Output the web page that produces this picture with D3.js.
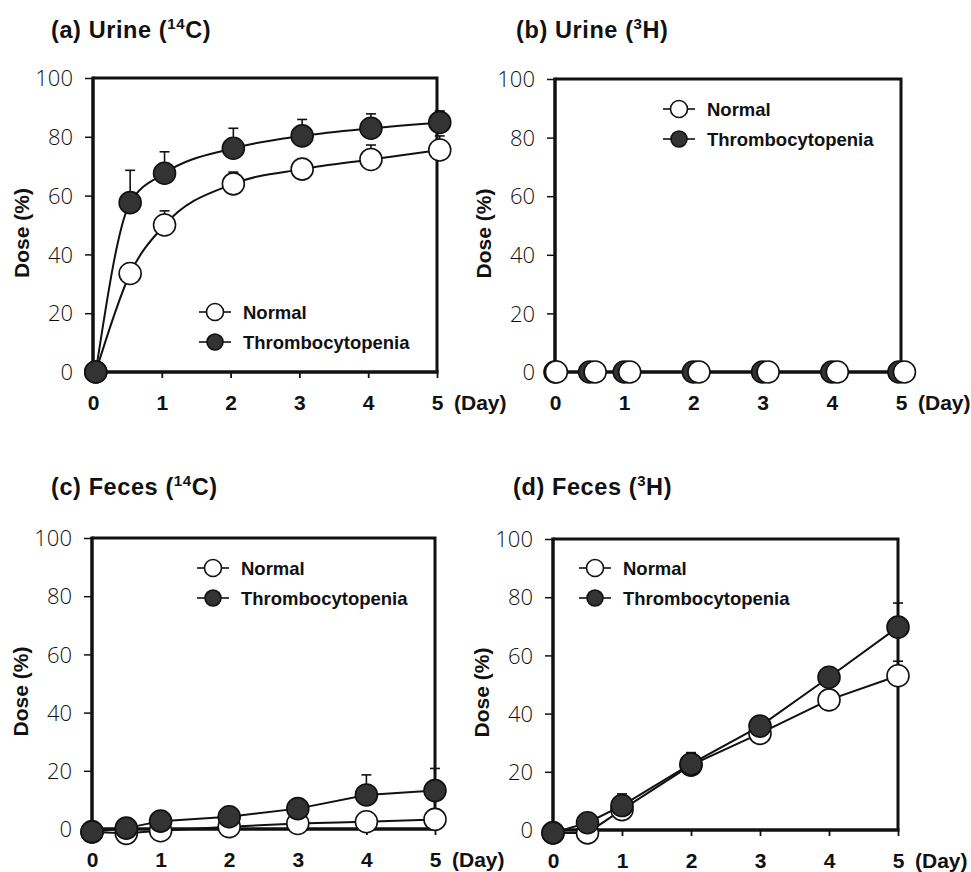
<!DOCTYPE html>
<html>
<head>
<meta charset="utf-8">
<script src="https://cdn.jsdelivr.net/npm/d3@7"></script>
<style>
  html, body { margin: 0; padding: 0; background: #fff; }
  svg { display: block; }
  .tick-y { font-family: "Open Sans", "Noto Sans", sans-serif; font-weight: 300; font-size: 22px; fill: #111; }
  .tick-x { font-family: "Liberation Sans", Arial, sans-serif; font-weight: bold; font-size: 21px; fill: #111; }
  .title { font-family: "Liberation Sans", Arial, sans-serif; font-weight: bold; font-size: 23.5px; letter-spacing: 0.6px; fill: #111; }
  .ylab { font-family: "Liberation Sans", Arial, sans-serif; font-weight: bold; font-size: 21px; fill: #111; }
  .leg { font-family: "Liberation Sans", Arial, sans-serif; font-weight: bold; font-size: 18.5px; fill: #111; }
</style>
</head>
<body>
<svg id="chart" width="971" height="872"></svg>
<script>
// ---------------- DATA ----------------
const days = [0, 0.5, 1, 2, 3, 4, 5];
const xTicks = [0, 1, 2, 3, 4, 5];
const yTicks = [0, 20, 40, 60, 80, 100];
const seriesNames = ["Normal", "Thrombocytopenia"];

const titles = {
  a: ["(a) Urine (", "14", "C)"],
  b: ["(b) Urine (", "3", "H)"],
  c: ["(c) Feces (", "14", "C)"],
  d: ["(d) Feces (", "3", "H)"]
};

// (a) Urine 14C
const aNormal    = [0, 33.5, 50, 64, 69, 72.3, 75.5];
const aNormalErr = [0, 0, 4.8, 4, 1.7, 4.9, 4.8];
const aThrombo    = [0, 57.6, 67.6, 76.1, 80.3, 82.9, 84.9];
const aThromboErr = [0, 11, 7.3, 6.8, 5.6, 4.9, 3.9];

// (b) Urine 3H
const bNormalDays = [0.02, 0.58, 1.08, 2.08, 3.08, 4.08, 5.05];
const bThromboDays = [0, 0.5, 1, 2, 3, 4, 4.97];
const bNormal  = [0, 0, 0, 0, 0, 0, 0];
const bThrombo = [0, 0, 0, 0, 0, 0, 0];

// (c) Feces 14C
const cNormal    = [-1, -1.5, -0.6, 0.8, 1.9, 2.5, 3.3];
const cNormalErr = [0, 0, 0, 0, 0, 0, 0];
const cThrombo    = [-1, 0.3, 2.7, 4.2, 7, 11.7, 13.2];
const cThromboErr = [0, 0, 0, 0, 0, 6.9, 7.6];

// (d) Feces 3H
const dNormal    = [-1, -1, 7, 22.3, 33.2, 44.7, 53];
const dNormalErr = [0, 0, 3, 3, 0, 0, 5];
const dThrombo    = [-1, 2.5, 8.4, 22.7, 35.7, 52.5, 69.7];
const dThromboErr = [0, 0, 4, 3.9, 2.8, 0, 8.3];

// ---------------- LAYOUT ----------------
const panels = [
  { key: "a", L: 93, R: 437, T: 78, B: 372, titleX: 51, titleY: 38, curve: d3.curveMonotoneX,
    normal: aNormal, normalErr: aNormalErr, thrombo: aThrombo, thromboErr: aThromboErr,
    nDays: days.map(d => d + 0.04), tDays: days.map(d => d + 0.04), normalOnTop: false,
    legX: 215, legY: 312 },
  { key: "b", L: 555, R: 901, T: 79, B: 372, titleX: 516, titleY: 38, curve: d3.curveLinear,
    normal: bNormal, normalErr: null, thrombo: bThrombo, thromboErr: null,
    nDays: bNormalDays, tDays: bThromboDays, normalOnTop: true,
    legX: 679, legY: 109 },
  { key: "c", L: 92, R: 435, T: 538, B: 829, titleX: 51, titleY: 495, curve: d3.curveLinear,
    normal: cNormal, normalErr: cNormalErr, thrombo: cThrombo, thromboErr: cThromboErr,
    nDays: days, tDays: days, normalOnTop: false,
    legX: 213, legY: 568 },
  { key: "d", L: 553, R: 898, T: 539, B: 830, titleX: 513, titleY: 495, curve: d3.curveLinear,
    normal: dNormal, normalErr: dNormalErr, thrombo: dThrombo, thromboErr: dThromboErr,
    nDays: days, tDays: days, normalOnTop: false,
    legX: 595, legY: 568 }
];

const svg = d3.select("#chart");
const R = 11;
const fillDark = "#333";

panels.forEach(p => {
  const g = svg.append("g");
  const x = d3.scaleLinear().domain([0, 5]).range([p.L, p.R]);
  const y = d3.scaleLinear().domain([0, 100]).range([p.B, p.T]);

  // Title
  const t = g.append("text").attr("class", "title").attr("x", p.titleX).attr("y", p.titleY);
  const parts = titles[p.key];
  t.append("tspan").text(parts[0]);
  t.append("tspan").attr("font-size", "15px").attr("dy", -9).text(parts[1]);
  t.append("tspan").attr("dy", 9).text(parts[2]);

  // Y axis label
  g.append("text").attr("class", "ylab")
    .attr("transform", `translate(${p.L - 64},${(p.T + p.B) / 2 + 8}) rotate(-90)`)
    .attr("text-anchor", "middle").text("Dose (%)");

  // Frame (top & right)
  g.append("path")
    .attr("d", `M${p.L},${p.T}H${p.R}V${p.B}`)
    .attr("fill", "none").attr("stroke", "#111").attr("stroke-width", 3);

  // Y axis
  const yAxis = d3.axisLeft(y).tickValues(yTicks).tickSize(8).tickPadding(12).tickFormat(d3.format("d"));
  const ya = g.append("g").attr("transform", `translate(${p.L},0)`).call(yAxis);
  ya.select(".domain").attr("stroke", "#111").attr("stroke-width", 3.5).attr("d", `M0,${p.B + 2}V${p.T - 1.5}`);
  ya.selectAll(".tick line").attr("stroke", "#111").attr("stroke-width", 1.5);
  ya.selectAll(".tick text").attr("class", "tick-y").attr("dy", "0.35em").attr("fill", "#111");

  // X axis
  const xAxis = d3.axisBottom(x).tickValues(xTicks).tickSize(6).tickPadding(17).tickFormat(d3.format("d"));
  const xa = g.append("g").attr("transform", `translate(0,${p.B})`).call(xAxis);
  xa.select(".domain").attr("stroke", "#111").attr("stroke-width", 3.5).attr("d", `M${p.L - 1.5},0H${p.R + 1.5}`);
  xa.selectAll(".tick line").attr("stroke", "#111").attr("stroke-width", 1.8);
  xa.selectAll(".tick text").attr("class", "tick-x").attr("dy", "0.71em").attr("fill", "#111");
  g.append("text").attr("class", "tick-x")
    .attr("x", x(5) + 17).attr("y", p.B + 23).attr("dy", "0.71em").text("(Day)");

  // Series
  const series = [
    { name: "Normal", days: p.nDays, vals: p.normal, err: p.normalErr, fill: "#fff" },
    { name: "Thrombocytopenia", days: p.tDays, vals: p.thrombo, err: p.thromboErr, fill: fillDark }
  ];
  const line = d3.line().x(d => x(d[0])).y(d => y(d[1])).curve(p.curve);

  // error bars first
  series.forEach(s => {
    if (!s.err) return;
    const pts = s.days.map((d, i) => [d, s.vals[i], s.err[i]]).filter(d => d[2] > 0);
    const eg = g.append("g").attr("stroke", "#111").attr("stroke-width", 1.6);
    eg.selectAll("line.v").data(pts).join("line")
      .attr("x1", d => x(d[0])).attr("x2", d => x(d[0]))
      .attr("y1", d => y(d[1])).attr("y2", d => y(d[1] + d[2]));
    eg.selectAll("line.h").data(pts).join("line")
      .attr("x1", d => x(d[0]) - 5).attr("x2", d => x(d[0]) + 5)
      .attr("y1", d => y(d[1] + d[2])).attr("y2", d => y(d[1] + d[2]));
  });

  // lines
  series.forEach(s => {
    g.append("path")
      .attr("d", line(s.days.map((d, i) => [d, s.vals[i]])))
      .attr("fill", "none").attr("stroke", "#111").attr("stroke-width", 2);
  });

  // markers
  const order = p.normalOnTop ? [series[1], series[0]] : [series[0], series[1]];
  order.forEach(s => {
    g.append("g").selectAll("circle").data(s.days.map((d, i) => [d, s.vals[i]])).join("circle")
      .attr("cx", d => x(d[0])).attr("cy", d => y(d[1])).attr("r", R)
      .attr("fill", s.fill).attr("stroke", "#111").attr("stroke-width", 1.6);
  });

  // legend
  seriesNames.forEach((nm, i) => {
    const ly = p.legY + i * 30;
    const lg = g.append("g");
    lg.append("line").attr("x1", p.legX - 16).attr("x2", p.legX + 16)
      .attr("y1", ly).attr("y2", ly).attr("stroke", "#111").attr("stroke-width", 1.6);
    lg.append("circle").attr("cx", p.legX).attr("cy", ly).attr("r", i === 0 ? 8.5 : 8)
      .attr("fill", i === 0 ? "#fff" : fillDark).attr("stroke", "#111").attr("stroke-width", 1.6);
    lg.append("text").attr("class", "leg").attr("x", p.legX + 28).attr("y", ly).attr("dy", "0.36em").text(nm);
  });
});
</script>
</body>
</html>
